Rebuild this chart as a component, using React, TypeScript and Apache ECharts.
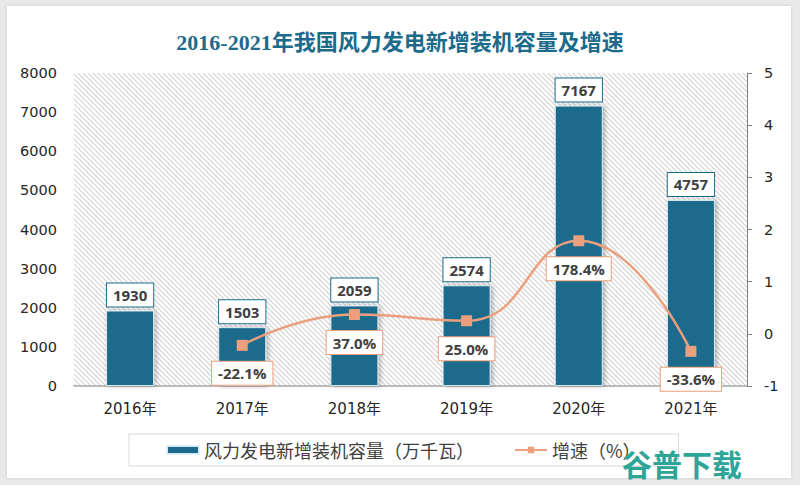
import React, { useEffect, useRef } from "react";
import * as echarts from "echarts";

const categories = ["2016年", "2017年", "2018年", "2019年", "2020年", "2021年"];
const capacity = [1930, 1503, 2059, 2574, 7167, 4757];
const growth: (number | null)[] = [null, -0.221, 0.37, 0.25, 1.784, -0.336];
const leftTicks = { min: 0, max: 8000, interval: 1000 };
const rightTicks = { min: -1, max: 5, interval: 1 };
const titleText = "2016-2021年我国风力发电新增装机容量及增速";
const barName = "风力发电新增装机容量（万千瓦）";
const lineName = "增速（%）";
const watermark = "谷普下载";

function makeHatch() {
  const s = 5;
  const c = document.createElement("canvas");
  c.width = s;
  c.height = s;
  const ctx = c.getContext("2d")!;
  ctx.fillStyle = "#ffffff";
  ctx.fillRect(0, 0, s, s);
  ctx.strokeStyle = "#d2d2d2";
  ctx.lineWidth = 1.1;
  ctx.beginPath();
  ctx.moveTo(-1, -1);
  ctx.lineTo(s + 1, s + 1);
  ctx.moveTo(-1, s - 1);
  ctx.lineTo(1, s + 1);
  ctx.moveTo(s - 1, -1);
  ctx.lineTo(s + 1, 1);
  ctx.stroke();
  return c;
}

export default function App() {
  const ref = useRef<HTMLDivElement>(null);
  useEffect(() => {
    if (!ref.current) return;
    const chart = echarts.init(ref.current, undefined, { renderer: "svg" });
    const font = "'DejaVu Sans', 'Noto Sans CJK SC', sans-serif";
    const labelFont = "'Open Sans', 'DejaVu Sans', sans-serif";
    chart.setOption({
      animation: false,
      backgroundColor: "transparent",
      textStyle: { fontFamily: font },
      title: {
        text: titleText,
        left: "center",
        top: 26,
        textStyle: {
          fontFamily: "'Liberation Serif', 'Noto Sans CJK SC', serif",
          fontWeight: "bold",
          fontSize: 22,
          color: "#1d6b8b",
        },
      },
      grid: {
        left: 74,
        right: 53,
        top: 73,
        bottom: 99,
        show: true,
        borderWidth: 0,
        backgroundColor: { image: makeHatch(), repeat: "repeat" },
      },
      legend: {
        left: 129,
        top: 434,
        padding: [7, 38, 7, 37],
        borderColor: "#d9d9d9",
        borderWidth: 1,
        itemWidth: 32,
        itemHeight: 8,
        itemGap: 40,
        textStyle: { fontSize: 18, color: "#404040", fontFamily: "'Noto Sans CJK SC', sans-serif" },
        data: [{ name: barName, icon: "rect" }, { name: lineName }],
      },
      xAxis: {
        type: "category",
        data: categories,
        axisLine: { lineStyle: { color: "#a6a6a6", width: 1.5 } },
        axisTick: { show: false },
        axisLabel: { fontSize: 15, color: "#262626", margin: 15 },
      },
      yAxis: [
        {
          type: "value",
          ...leftTicks,
          axisLine: { show: false },
          axisTick: { show: false },
          splitLine: { show: false },
          axisLabel: { fontSize: 14.5, color: "#262626", margin: 17, formatter: (v: number) => String(v) },
        },
        {
          type: "value",
          ...rightTicks,
          position: "right",
          axisLine: { show: true, lineStyle: { color: "#7f7f7f" } },
          axisTick: { show: true, length: 5, lineStyle: { color: "#7f7f7f" } },
          splitLine: { show: false },
          axisLabel: { fontSize: 14.5, color: "#262626", margin: 17 },
        },
      ],
      series: [
        {
          name: barName,
          type: "bar",
          yAxisIndex: 0,
          data: capacity,
          barWidth: 48,
          itemStyle: {
            color: "#1b6a8c",
            borderColor: "rgba(225,238,245,0.95)",
            borderWidth: 1,
            shadowBlur: 5,
            shadowColor: "rgba(0,0,0,0.3)",
            shadowOffsetX: 2,
          },
          label: {
            show: true,
            position: "top",
            distance: 4,
            fontFamily: labelFont,
            fontSize: 15,
            fontWeight: "bold",
            color: "#404040",
            backgroundColor: "#ffffff",
            borderColor: "#1b6a8c",
            borderWidth: 1,
            padding: [4, 6, 4, 6],
          },
        },
        {
          name: lineName,
          type: "line",
          yAxisIndex: 1,
          data: growth,
          smooth: true,
          connectNulls: true,
          symbol: "rect",
          symbolSize: 11,
          lineStyle: { width: 2.5, color: "#eb9f7c" },
          itemStyle: { color: "#eb9f7c" },
          z: 5,
          label: {
            show: true,
            position: "bottom",
            distance: 11,
            fontFamily: labelFont,
            fontSize: 15,
            fontWeight: "bold",
            color: "#404040",
            backgroundColor: "#ffffff",
            borderColor: "#eb9f7c",
            borderWidth: 1,
            padding: [4, 6, 4, 6],
            formatter: (p: any) => (p.value == null ? "" : (p.value * 100).toFixed(1) + "%"),
          },
        },
      ],
      graphic: [
        {
          type: "text",
          x: 622,
          y: 463,
          z: 100,
          style: {
            text: watermark,
            font: "bold 30px 'Noto Sans CJK SC'",
            fill: "#2ea597",
            verticalAlign: "middle",
            lineHeight: 30,
          },
        },
      ],
    });
    return () => chart.dispose();
  }, []);
  return (
    <div style={{ position: "fixed", left: 0, top: 0, width: 800, height: 485, background: "#e9e9e9" }}>
      <div
        style={{
          position: "absolute",
          left: 7,
          top: 6,
          width: 784,
          height: 472,
          background: "#fff",
          boxShadow: "0 0 3px rgba(0,0,0,0.12)",
        }}
      />
      <div ref={ref} style={{ position: "absolute", left: 0, top: 0, width: 800, height: 485 }} />
    </div>
  );
}
